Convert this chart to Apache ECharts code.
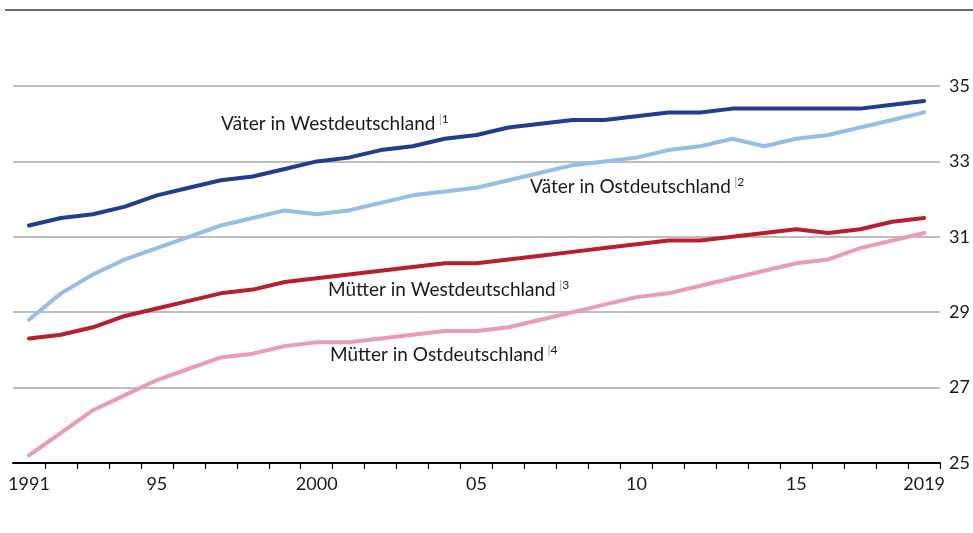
<!DOCTYPE html>
<html>
<head>
<meta charset="utf-8">
<script src="https://cdn.jsdelivr.net/npm/echarts@6/dist/echarts.min.js"></script>
<style>
  html, body { margin: 0; padding: 0; background: #fff; }
  #datas { width: 973px; height: 533px; }
</style>
</head>
<body>
<div id="datas"></div>
<script>
var years = [];
for (var y = 1991; y <= 2019; y++) { years.push(String(y)); }

// Tick labels shown on the x axis
var xLabels = {'1991': '1991', '1995': '95', '2000': '2000', '2005': '05', '2010': '10', '2015': '15', '2019': '2019'};

var vaeterWest = [31.3, 31.5, 31.6, 31.8, 32.1, 32.3, 32.5, 32.6, 32.8, 33.0, 33.1, 33.3, 33.4, 33.6, 33.7,
                  33.9, 34.0, 34.1, 34.1, 34.2, 34.3, 34.3, 34.4, 34.4, 34.4, 34.4, 34.4, 34.5, 34.6];
var vaeterOst  = [28.8, 29.5, 30.0, 30.4, 30.7, 31.0, 31.3, 31.5, 31.7, 31.6, 31.7, 31.9, 32.1, 32.2, 32.3,
                  32.5, 32.7, 32.9, 33.0, 33.1, 33.3, 33.4, 33.6, 33.4, 33.6, 33.7, 33.9, 34.1, 34.3];
var muetterWest = [28.3, 28.4, 28.6, 28.9, 29.1, 29.3, 29.5, 29.6, 29.8, 29.9, 30.0, 30.1, 30.2, 30.3, 30.3,
                   30.4, 30.5, 30.6, 30.7, 30.8, 30.9, 30.9, 31.0, 31.1, 31.2, 31.1, 31.2, 31.4, 31.5];
var muetterOst  = [25.2, 25.8, 26.4, 26.8, 27.2, 27.5, 27.8, 27.9, 28.1, 28.2, 28.2, 28.3, 28.4, 28.5, 28.5,
                   28.6, 28.8, 29.0, 29.2, 29.4, 29.5, 29.7, 29.9, 30.1, 30.3, 30.4, 30.7, 30.9, 31.1];

var FONT = 'Lato';

function line(name, data, color) {
	return {
		name: name,
		type: 'line',
		data: data,
		symbol: 'none',
		smooth: false,
		lineStyle: { color: color, width: 4, cap: 'round', join: 'round' },
		itemStyle: { color: color }
	};
}

function label(text, sup, x, y) {
	return {
		type: 'text',
		left: x,
		top: y,
		style: {
			text: '{t|' + text + '}{b|\u2009|}{s|' + sup + '}',
			rich: {
				t: { fontFamily: FONT, fontSize: 19, fill: '#1a1a1a', lineHeight: 22 },
				b: { fontFamily: FONT, fontSize: 12, fill: '#999', verticalAlign: 'top', lineHeight: 12, padding: [0, 0, 0, 2] },
				s: { fontFamily: FONT, fontSize: 12, fill: '#1a1a1a', verticalAlign: 'top', lineHeight: 12 }
			}
		}
	};
}

var option = {
	backgroundColor: '#fff',
	animation: false,
	grid: { left: 13, right: 27, top: 86, bottom: 70, containLabel: false },
	xAxis: {
		type: 'category',
		data: years,
		boundaryGap: true,
		axisLine: { lineStyle: { color: '#000', width: 2 } },
		axisTick: {
			show: true, length: 6, lineStyle: { color: '#000', width: 1.2 },
			interval: function (i) { return i > 0; }
		},
		axisLabel: {
			interval: function (i, v) { return xLabels[v] !== undefined; },
			formatter: function (v) { return xLabels[v] || ''; },
			fontFamily: FONT, fontSize: 18, color: '#1a1a1a', margin: 12
		},
		splitLine: { show: false }
	},
	yAxis: {
		type: 'value',
		position: 'right',
		min: 25,
		max: 35,
		interval: 2,
		axisLine: { show: false },
		axisTick: { show: false },
		axisLabel: { fontFamily: FONT, fontSize: 18, color: '#1a1a1a', margin: 9 },
		splitLine: { lineStyle: { color: '#a8a8a8', width: 1.5 } }
	},
	series: [
		line('Mütter in Ostdeutschland', muetterOst, '#ec9caf'),
		line('Mütter in Westdeutschland', muetterWest, '#b71f2e'),
		line('Väter in Ostdeutschland', vaeterOst, '#93bee8'),
		line('Väter in Westdeutschland', vaeterWest, '#213d91')
	],
	graphic: [
		{ type: 'rect', shape: { x: 5, y: 9, width: 968, height: 2 }, style: { fill: '#6b6b6b' } },
		label('Väter in Westdeutschland', '1', 221, 113),
		label('Väter in Ostdeutschland', '2', 530, 176),
		label('Mütter in Westdeutschland', '3', 328, 279),
		label('Mütter in Ostdeutschland', '4', 330, 344)
	]
};

var myChart = echarts.init(document.getElementById('datas'));
myChart.setOption(option);
</script>
</body>
</html>
